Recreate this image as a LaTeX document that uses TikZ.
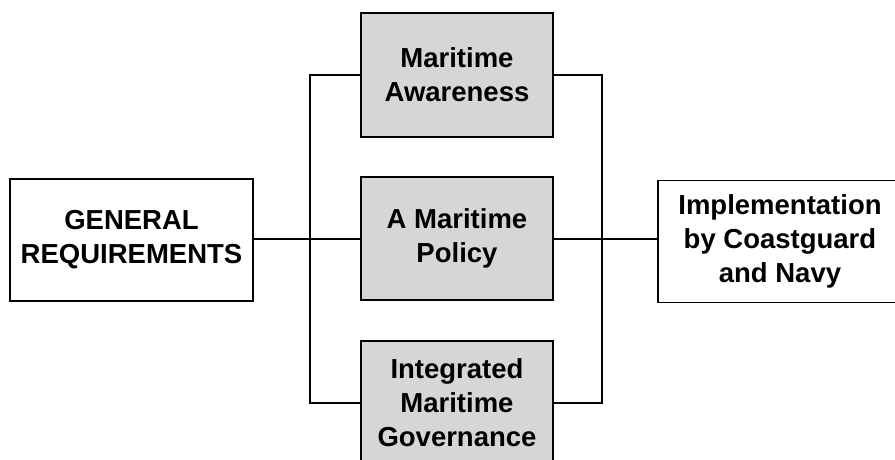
\documentclass[tikz,border=0pt]{standalone}
\usepackage{fontspec}
\setmainfont{Liberation Sans}
\begin{document}
\begin{tikzpicture}[x=1pt,y=-1pt,
  every node/.style={font=\fontsize{27.5}{34}\selectfont\bfseries, align=center, inner sep=0pt},
  plainbox/.style={draw=black, line width=1.7pt, fill=white},
  shadebox/.style={draw=black, line width=1.7pt, fill=black!16},
  conn/.style={draw=black, line width=1.4pt}]
\useasboundingbox (0,0) rectangle (895,459);
\clip (0,0) rectangle (895,459);
\fill[white] (0,0) rectangle (895,459);
\node[plainbox, minimum width=243pt, minimum height=122pt] (gen) at (131.5,240) {GENERAL\\REQUIREMENTS};
\node[shadebox, minimum width=192pt, minimum height=124pt] (aware) at (457,75) {Maritime\\Awareness};
\node[shadebox, minimum width=192pt, minimum height=123pt] (policy) at (457,238.5) {A Maritime\\Policy};
\node[shadebox, minimum width=192pt, minimum height=124pt] (integ) at (457,403) {Integrated\\Maritime\\Governance};
\node[plainbox, minimum width=244pt, minimum height=122pt] (impl) at (780,241.5) {Implementation\\by Coastguard\\and Navy};
\coordinate (lt) at (310,75);
\coordinate (lm) at (310,239);
\coordinate (lb) at (310,403);
\coordinate (rt) at (602,75);
\coordinate (rm) at (602,239);
\coordinate (rb) at (602,403);
\draw[conn] (aware.west) -- (lt) -- (lb) -- (integ.west);
\draw[conn] (gen.east |- lm) -- (policy.west |- lm);
\draw[conn] (aware.east) -- (rt) -- (rb) -- (integ.east);
\draw[conn] (policy.east |- rm) -- (impl.west |- rm);
\end{tikzpicture}
\end{document}
